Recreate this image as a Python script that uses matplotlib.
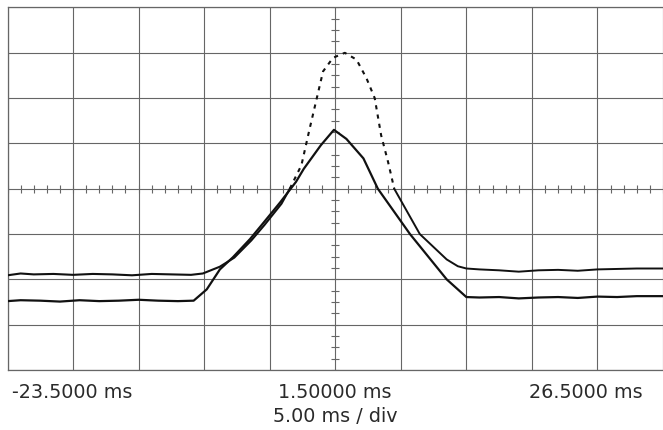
import matplotlib
matplotlib.use("Agg")
import matplotlib.pyplot as plt
import numpy as np

# ---- data (time in ms, amplitude in divisions) ----
t1 = [-23.5, -22.5, -21.0, -19.5, -18.0, -16.5, -15.0, -13.5, -12.0, -10.5, -9.3,
      -8.3, -7.3, -6.3, -5.0, -4.0, -2.7, -1.5, -0.9, 0.4, 1.4, 2.35, 3.65, 4.75, 7.2, 10.0, 11.5,
      12.5, 14.0, 15.5, 17.0, 18.5, 20.0, 21.5, 23.0, 24.5, 26.5]
v1 = [-2.48, -2.46, -2.47, -2.49, -2.46, -2.48, -2.47, -2.45, -2.47, -2.48, -2.47,
      -2.22, -1.78, -1.51, -1.11, -0.76, -0.30, 0.15, 0.44, 0.96, 1.30, 1.10, 0.67, 0.0, -1.0, -2.0, -2.39,
      -2.40, -2.39, -2.42, -2.40, -2.39, -2.41, -2.38, -2.39, -2.37, -2.37]

t2_rise = [-23.5, -22.5, -21.5, -20.0, -18.5, -17.0, -15.5, -14.0, -12.5, -11.0, -9.5,
           -8.6, -7.3, -6.2, -4.9, -3.9, -2.6, -1.97]
v2_rise = [-1.91, -1.87, -1.89, -1.88, -1.90, -1.88, -1.89, -1.91, -1.88, -1.89, -1.90,
           -1.87, -1.72, -1.52, -1.14, -0.80, -0.33, 0.0]

t2_peak = [-1.97, -1.08, -0.45, 0.06, 0.57, 1.33, 2.23, 3.12, 3.88, 4.51, 5.0, 5.53, 6.0]
v2_peak = [0.0, 0.52, 1.33, 1.96, 2.59, 2.89, 3.0, 2.85, 2.44, 2.0, 1.18, 0.59, 0.0]

t2_fall = [6.0, 7.95, 10.0, 10.85, 11.5, 12.5, 14.0, 15.5, 17.0, 18.5, 20.0, 21.5, 23.0, 24.5, 26.5]
v2_fall = [0.0, -1.0, -1.56, -1.71, -1.76, -1.78, -1.80, -1.83, -1.80, -1.79, -1.81, -1.78, -1.77, -1.76, -1.76]

x_labels = ["-23.5000 ms", "1.50000 ms", "26.5000 ms"]
scale_label = "5.00 ms / div"

# ---- figure ----
W, H = 663, 430
fig = plt.figure(figsize=(W / 100, H / 100), dpi=100)
L, R, T, B = 7.5, 663, 7.5, 370
ax = fig.add_axes([L / W, 1 - B / H, (R - L) / W, (B - T) / H])
x0, x1 = -23.5, 26.5
ax.set_xlim(x0, x1)
ax.set_ylim(-4, 4)

gcol = "#666666"
for x in np.arange(x0, x1 + 0.01, 5.0):
    ax.axvline(x, color=gcol, lw=0.8, zorder=1)
for y in np.arange(-4, 4.01, 1.0):
    ax.axhline(y, color=gcol, lw=0.8, zorder=1)

# minor ticks on the centre axes
mx = np.arange(x0, x1 + 0.01, 1.0)
ax.plot(mx, np.zeros_like(mx), linestyle="none", marker="|", markersize=6,
        color=gcol, mew=0.8, zorder=1)
my = np.arange(-4, 4.01, 0.25)
ax.plot(np.full_like(my, 1.5), my, linestyle="none", marker="_", markersize=6,
        color=gcol, mew=0.8, zorder=1)

tc = "#111111"
ax.plot(t1, v1, color=tc, lw=1.6, zorder=3)
ax.plot(t2_rise, v2_rise, color=tc, lw=1.5, zorder=3)
ax.plot(t2_peak, v2_peak, color=tc, lw=1.5, linestyle=(0, (2, 2.5)), zorder=3)
ax.plot(t2_fall, v2_fall, color=tc, lw=1.4, zorder=3)

ax.set_xticks([])
ax.set_yticks([])
for s in ["left", "top", "bottom"]:
    ax.spines[s].set_color(gcol)
    ax.spines[s].set_linewidth(0.9)
ax.spines["right"].set_visible(False)

fs = 13.8
tcol = "#2a2a2a"
fig.text(12 / W, 1 - 392 / H, x_labels[0], ha="left", va="center", fontsize=fs,
         color=tcol, family="DejaVu Sans")
fig.text(335 / W, 1 - 392 / H, x_labels[1], ha="center", va="center", fontsize=fs,
         color=tcol, family="DejaVu Sans")
fig.text(643 / W, 1 - 392 / H, x_labels[2], ha="right", va="center", fontsize=fs,
         color=tcol, family="DejaVu Sans")
fig.text(335 / W, 1 - 417 / H, scale_label, ha="center", va="center", fontsize=fs,
         color=tcol, family="DejaVu Sans")

fig.savefig("out.png", dpi=100)
